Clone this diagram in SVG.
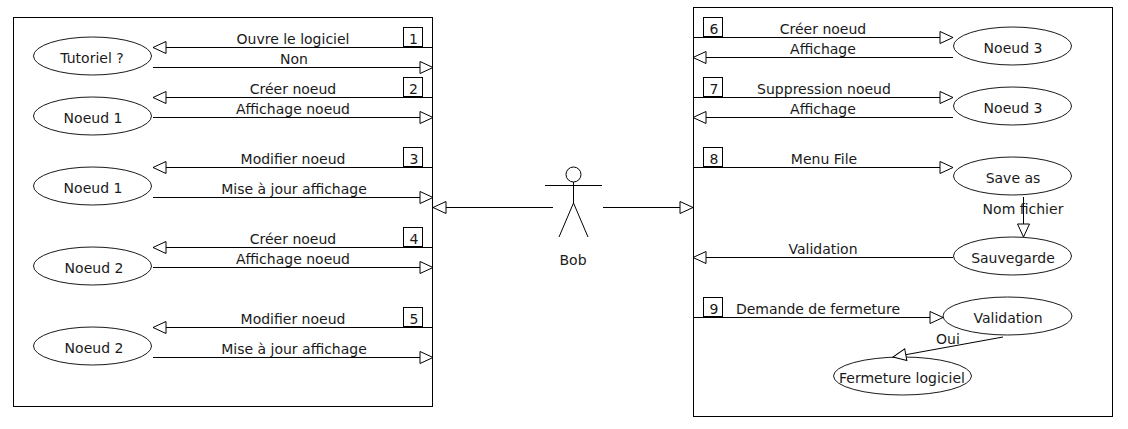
<svg xmlns="http://www.w3.org/2000/svg" width="1128" height="429" viewBox="0 0 1128 429">
<style>
text{font-family:"DejaVu Sans",sans-serif;font-size:14px;fill:#1a1a1a;text-anchor:middle}
.b{fill:#fff;stroke:#000;stroke-width:1}
.n{fill:none;stroke:#000;stroke-width:1}
.e{fill:#fff;stroke:#1a1a1a;stroke-width:1}
.c line{stroke:#000;stroke-width:1;marker-end:url(#h)}
</style>
<defs>
<marker id="h" markerUnits="userSpaceOnUse" markerWidth="16" markerHeight="16" refX="14" refY="7" orient="auto" overflow="visible">
<path d="M1 1 L14 7 L1 13 Z" fill="#fff" stroke="#000" stroke-width="1"/>
</marker>
</defs>
<rect id="frame-left" class="n" x="13.5" y="17.5" width="419" height="389"/>
<rect id="frame-right" class="n" x="693.5" y="7.5" width="419" height="409"/>
<g id="step-1"><rect class="b" x="403.5" y="27.5" width="19" height="19"/><text x="413.5" y="44">1</text></g>
<g id="step-2"><rect class="b" x="403.5" y="77.5" width="19" height="19"/><text x="413.5" y="94">2</text></g>
<g id="step-3"><rect class="b" x="403.5" y="147.5" width="19" height="19"/><text x="414" y="164">3</text></g>
<g id="step-4"><rect class="b" x="403.5" y="227.5" width="19" height="19"/><text x="414" y="244">4</text></g>
<g id="step-5"><rect class="b" x="403.5" y="307.5" width="19" height="19"/><text x="414" y="324">5</text></g>
<g id="step-6"><rect class="b" x="703.5" y="17.5" width="19" height="19"/><text x="714" y="34">6</text></g>
<g id="step-7"><rect class="b" x="703.5" y="77.5" width="19" height="19"/><text x="714" y="94">7</text></g>
<g id="step-8"><rect class="b" x="703.5" y="147.5" width="19" height="19"/><text x="714" y="164">8</text></g>
<g id="step-9"><rect class="b" x="703.5" y="297.5" width="19" height="19"/><text x="714" y="314">9</text></g>
<g id="tutoriel"><ellipse class="e" cx="92.5" cy="56" rx="59" ry="19"/><text x="92" y="63">Tutoriel ?</text></g>
<g id="noeud-1a"><ellipse class="e" cx="92.5" cy="116" rx="59" ry="19"/><text x="93" y="123">Noeud 1</text></g>
<g id="noeud-1b"><ellipse class="e" cx="92.5" cy="186" rx="59" ry="19"/><text x="93" y="193">Noeud 1</text></g>
<g id="noeud-2a"><ellipse class="e" cx="92.5" cy="266" rx="59" ry="19"/><text x="94" y="273">Noeud 2</text></g>
<g id="noeud-2b"><ellipse class="e" cx="92.5" cy="346" rx="59" ry="19"/><text x="94" y="353">Noeud 2</text></g>
<g id="noeud-3a"><ellipse class="e" cx="1012.5" cy="46" rx="59" ry="19"/><text x="1013" y="53">Noeud 3</text></g>
<g id="noeud-3b"><ellipse class="e" cx="1012.5" cy="106" rx="59" ry="19"/><text x="1013" y="113">Noeud 3</text></g>
<g id="save-as"><ellipse class="e" cx="1012.5" cy="176" rx="59" ry="19"/><text x="1013" y="183">Save as</text></g>
<g id="sauvegarde"><ellipse class="e" cx="1012.5" cy="256" rx="59" ry="19"/><text x="1013" y="263">Sauvegarde</text></g>
<g id="validation"><ellipse class="e" cx="1007.5" cy="316" rx="64.5" ry="19"/><text x="1008" y="323">Validation</text></g>
<g id="fermeture"><ellipse class="e" cx="902.5" cy="376" rx="69" ry="19"/><text x="902" y="383">Fermeture logiciel</text></g>
<g id="bob">
<circle class="n" cx="573.5" cy="174.5" r="7.5"/>
<path class="n" d="M545 185.5H602M573.5 182V203L559 237M573.5 203L588 237"/>
<text x="573" y="265">Bob</text>
</g>
<g id="connectors" class="c">
<line x1="433" y1="47.5" x2="153" y2="47.5"/>
<line x1="153" y1="67.5" x2="433" y2="67.5"/>
<line x1="433" y1="97.5" x2="153" y2="97.5"/>
<line x1="153" y1="117.5" x2="433" y2="117.5"/>
<line x1="433" y1="167.5" x2="153" y2="167.5"/>
<line x1="153" y1="197.5" x2="433" y2="197.5"/>
<line x1="433" y1="247.5" x2="153" y2="247.5"/>
<line x1="153" y1="267.5" x2="433" y2="267.5"/>
<line x1="433" y1="327.5" x2="153" y2="327.5"/>
<line x1="153" y1="357.5" x2="433" y2="357.5"/>
<line x1="553" y1="207.5" x2="433" y2="207.5"/>
<line x1="603" y1="207.5" x2="693" y2="207.5"/>
<line x1="693" y1="37.5" x2="953" y2="37.5"/>
<line x1="953" y1="57.5" x2="693" y2="57.5"/>
<line x1="693" y1="97.5" x2="953" y2="97.5"/>
<line x1="953" y1="117.5" x2="693" y2="117.5"/>
<line x1="693" y1="167.5" x2="953" y2="167.5"/>
<line x1="1023.5" y1="197" x2="1023.5" y2="237"/>
<line x1="953" y1="257.5" x2="693" y2="257.5"/>
<line x1="693" y1="317.5" x2="943" y2="317.5"/>
<line x1="1003" y1="337" x2="893" y2="357"/>
</g>
<g id="labels">
<text x="293" y="44">Ouvre le logiciel</text>
<text x="294" y="64">Non</text>
<text x="293" y="94">Créer noeud</text>
<text x="293" y="114">Affichage noeud</text>
<text x="293" y="164">Modifier noeud</text>
<text x="294" y="194">Mise à jour affichage</text>
<text x="293" y="244">Créer noeud</text>
<text x="293" y="264">Affichage noeud</text>
<text x="293" y="324">Modifier noeud</text>
<text x="294" y="354">Mise à jour affichage</text>
<text x="823" y="34">Créer noeud</text>
<text x="823" y="54">Affichage</text>
<text x="824" y="94">Suppression noeud</text>
<text x="823" y="114">Affichage</text>
<text x="824" y="164">Menu File</text>
<text x="1023" y="214">Nom fichier</text>
<text x="823" y="254">Validation</text>
<text x="818" y="314">Demande de fermeture</text>
<text x="948" y="344">Oui</text>
</g>
</svg>
